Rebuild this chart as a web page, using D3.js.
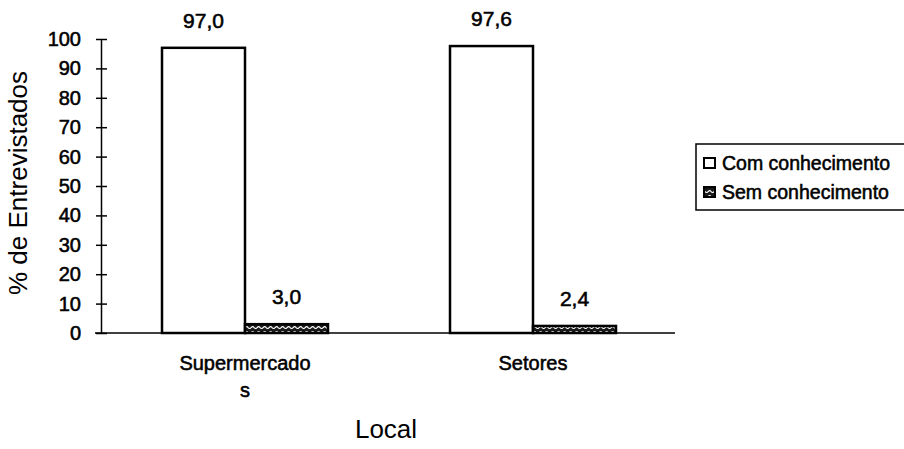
<!DOCTYPE html>
<html>
<head>
<meta charset="utf-8">
<script src="https://cdn.jsdelivr.net/npm/d3@7"></script>
<style>
  html, body { margin: 0; padding: 0; background: #fff; }
  svg { display: block; }
  text { font-family: "Liberation Sans", Arial, sans-serif; fill: #000; }
  .heavy { stroke: #000; stroke-width: 0.55px; }
</style>
</head>
<body>
<svg id="chart" width="904" height="449"></svg>
<script>
// Data
const categories = ["Supermercados", "Setores"];
const categoryLabels = [["Supermercado", "s"], ["Setores"]];
const series = ["Com conhecimento", "Sem conhecimento"];
const comValues = [97.0, 97.6];
const semValues = [3.0, 2.4];
const yTicks = [0, 10, 20, 30, 40, 50, 60, 70, 80, 90, 100];

const fmt = v => v.toFixed(1).replace(".", ",");

const svg = d3.select("#chart");

// Hatched fill for the "Sem conhecimento" series
const defs = svg.append("defs");
const pat = defs.append("pattern")
  .attr("id", "hatch")
  .attr("patternUnits", "userSpaceOnUse")
  .attr("width", 6).attr("height", 5);
pat.append("rect").attr("width", 6).attr("height", 5).attr("fill", "#1a1a1a");
pat.append("path")
  .attr("d", "M0,3 Q1.5,0.5 3,2.5 T6,2.5")
  .attr("fill", "none").attr("stroke", "#fff").attr("stroke-width", 1.2);

const plotLeft = 101, plotRight = 677, plotTop = 39, plotBottom = 333;

const x0 = d3.scaleBand().domain(categories).range([plotLeft, plotRight]).padding(0);
const x1 = d3.scaleBand().domain(series).range([0, x0.bandwidth()]).paddingInner(0).paddingOuter(0.735);
const y = d3.scaleLinear().domain([0, 100]).range([plotBottom, plotTop]);

const rows = categories.map((c, i) => ({
  cat: c,
  vals: [
    { s: series[0], v: comValues[i] },
    { s: series[1], v: semValues[i] }
  ]
}));

// Bars
const groups = svg.append("g").selectAll("g").data(rows).join("g")
  .attr("transform", d => `translate(${x0(d.cat)},0)`);

groups.selectAll("rect").data(d => d.vals).join("rect")
  .attr("x", d => x1(d.s))
  .attr("y", d => y(d.v))
  .attr("width", x1.bandwidth())
  .attr("height", d => y(0) - y(d.v))
  .attr("fill", d => d.s === series[0] ? "#fff" : "url(#hatch)")
  .attr("stroke", "#000")
  .attr("stroke-width", 2.5);

// Value labels
groups.selectAll("text.val").data(d => d.vals).join("text")
  .attr("class", "val heavy")
  .attr("x", d => x1(d.s) + x1.bandwidth() / 2)
  .attr("y", d => y(d.v) - 20)
  .attr("text-anchor", "middle")
  .attr("font-size", 21)
  .text(d => fmt(d.v));

// Y axis
const yAxis = d3.axisLeft(y).tickValues(yTicks).tickSizeInner(6).tickSizeOuter(0).tickPadding(14);
const gy = svg.append("g").attr("transform", `translate(${plotLeft},0)`).call(yAxis);
gy.select(".domain").attr("stroke", "#000").attr("stroke-width", 1.5);
gy.selectAll(".tick line").attr("x1", -5).attr("x2", 6).attr("stroke", "#000").attr("stroke-width", 1.5);
gy.selectAll(".tick text")
  .attr("class", "heavy")
  .attr("font-size", 20)
  .attr("font-family", "Liberation Sans, Arial, sans-serif")
  .attr("fill", "#000");

// X axis baseline
svg.append("line")
  .attr("x1", plotLeft - 6).attr("x2", plotRight - 2)
  .attr("y1", y(0)).attr("y2", y(0))
  .attr("stroke", "#000").attr("stroke-width", 1.5);

// Category labels (wrapped)
categories.forEach((c, i) => {
  const t = svg.append("text")
    .attr("class", "heavy")
    .attr("x", x0(c) + x0.bandwidth() / 2)
    .attr("y", 370)
    .attr("text-anchor", "middle")
    .attr("font-size", 20);
  categoryLabels[i].forEach((line, j) => {
    t.append("tspan")
      .attr("x", x0(c) + x0.bandwidth() / 2)
      .attr("dy", j === 0 ? 0 : 27)
      .text(line);
  });
});

// Axis titles
svg.append("text")
  .attr("x", (plotLeft + plotRight) / 2 - 3)
  .attr("y", 438)
  .attr("text-anchor", "middle")
  .attr("font-size", 26)
  .text("Local");

svg.append("text")
  .attr("transform", `translate(27,${(plotTop + plotBottom) / 2 - 3}) rotate(-90)`)
  .attr("text-anchor", "middle")
  .attr("font-size", 26)
  .text("% de Entrevistados");

// Legend
const lg = svg.append("g").attr("transform", "translate(696,144)");
lg.append("rect")
  .attr("x", 0).attr("y", 0).attr("width", 220).attr("height", 66)
  .attr("fill", "#fff").attr("stroke", "#000").attr("stroke-width", 1.5);
series.forEach((s, i) => {
  const ly = 14 + i * 29;
  lg.append("rect")
    .attr("x", 8).attr("y", ly)
    .attr("width", 11).attr("height", 10)
    .attr("fill", i === 0 ? "#fff" : "url(#hatch)")
    .attr("stroke", "#000").attr("stroke-width", 2);
  lg.append("text")
    .attr("class", "heavy")
    .attr("x", 26).attr("y", ly + 12)
    .attr("font-size", 19.5)
    .text(s);
});
</script>
</body>
</html>
